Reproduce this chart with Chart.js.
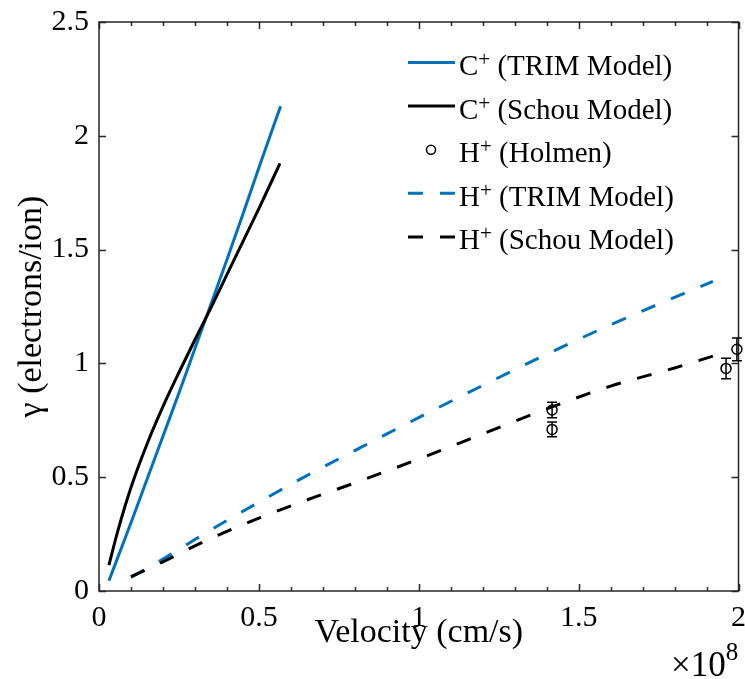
<!DOCTYPE html>
<html>
<head>
<meta charset="utf-8">
<script src="https://cdn.jsdelivr.net/npm/chart.js@4.4.0/dist/chart.umd.min.js"></script>
<style>
  html, body { margin: 0; padding: 0; background: #fff; }
  canvas { display: block; }
</style>
</head>
<body>
<canvas id="gammaChart" width="745" height="679"></canvas>
<script>
(function() {
'use strict';

// velocity in units of 1e8 cm/s, gamma in electrons/ion
const cTrimV = [0.031, 0.06, 0.1, 0.15, 0.2, 0.25, 0.3, 0.35, 0.4, 0.45, 0.5, 0.568];
const cTrimG = [0.045, 0.152, 0.3, 0.49, 0.68, 0.87, 1.065, 1.26, 1.455, 1.655, 1.86, 2.13];

const cSchouV = [0.031, 0.06, 0.1, 0.15, 0.2, 0.25, 0.3, 0.35, 0.4, 0.45, 0.5, 0.566];
const cSchouG = [0.114, 0.27, 0.455, 0.645, 0.81, 0.96, 1.104, 1.244, 1.39, 1.535, 1.68, 1.879];

const hTrimV = [0.1, 0.2, 0.3, 0.4, 0.5, 0.65, 0.8, 1.0, 1.2, 1.4, 1.6, 1.8, 1.92];
const hTrimG = [0.06, 0.14, 0.226, 0.31, 0.39, 0.507, 0.617, 0.762, 0.903, 1.04, 1.17, 1.29, 1.36];

const hSchouV = [0.1, 0.2, 0.3, 0.4, 0.5, 0.67, 0.8, 1.0, 1.2, 1.4, 1.6, 1.8, 1.92];
const hSchouG = [0.063, 0.128, 0.198, 0.262, 0.32, 0.41, 0.475, 0.58, 0.69, 0.80, 0.90, 0.98, 1.032];

const holmenV = [1.417, 1.417, 1.961, 1.995];
const holmenG = [0.795, 0.71, 0.978, 1.062];
const holmenErr = [0.034, 0.032, 0.045, 0.05];

const xMajorTicks = [0, 0.5, 1, 1.5, 2];
const xMinorTicks = [0.1, 0.2, 0.3, 0.4, 0.6, 0.7, 0.8, 0.9, 1.1, 1.2, 1.3, 1.4, 1.6, 1.7, 1.8, 1.9];
const yMajorTicks = [0, 0.5, 1, 1.5, 2, 2.5];

const BLUE = '#0072BD';
const BLACK = '#000000';
const AXIS = '#262626';
const FONT = '"Liberation Serif", "Times New Roman", serif';

function pts(xs, ys) {
    return xs.map((x, i) => ({ x: x, y: ys[i] }));
}

const legendRows = [
    { ion: 'C', rest: ' (TRIM Model)', color: BLUE, dash: [], kind: 'line' },
    { ion: 'C', rest: ' (Schou Model)', color: BLACK, dash: [], kind: 'line' },
    { ion: 'H', rest: ' (Holmen)', color: BLACK, dash: [], kind: 'marker' },
    { ion: 'H', rest: ' (TRIM Model)', color: BLUE, dash: [15, 17], kind: 'line' },
    { ion: 'H', rest: ' (Schou Model)', color: BLACK, dash: [15, 17], kind: 'line' }
];

// box with inward ticks on all four sides, like the original figure
const framePlugin = {
    id: 'frame',
    beforeDatasetsDraw(chart) {
        const ctx = chart.ctx;
        const a = chart.chartArea;
        const xs = chart.scales.x;
        const ys = chart.scales.y;
        ctx.save();
        ctx.strokeStyle = AXIS;
        ctx.lineWidth = 1.5;
        ctx.beginPath();
        xMajorTicks.forEach(v => {
            const px = Math.round(xs.getPixelForValue(v)) + 0.5;
            ctx.moveTo(px, a.bottom); ctx.lineTo(px, a.bottom - 7);
            ctx.moveTo(px, a.top); ctx.lineTo(px, a.top + 7);
        });
        xMinorTicks.forEach(v => {
            const px = Math.round(xs.getPixelForValue(v)) + 0.5;
            ctx.moveTo(px, a.bottom); ctx.lineTo(px, a.bottom - 4);
            ctx.moveTo(px, a.top); ctx.lineTo(px, a.top + 4);
        });
        yMajorTicks.forEach(v => {
            const py = Math.round(ys.getPixelForValue(v)) + 0.5;
            ctx.moveTo(a.left, py); ctx.lineTo(a.left + 7, py);
            ctx.moveTo(a.right, py); ctx.lineTo(a.right - 7, py);
        });
        ctx.stroke();
        ctx.strokeRect(a.left, a.top, a.right - a.left, a.bottom - a.top);
        ctx.restore();
    }
};

const errorBarPlugin = {
    id: 'errorBars',
    afterDatasetsDraw(chart) {
        const ctx = chart.ctx;
        const ys = chart.scales.y;
        const meta = chart.getDatasetMeta(2);
        ctx.save();
        ctx.strokeStyle = BLACK;
        ctx.lineWidth = 1.5;
        meta.data.forEach((pt, i) => {
            const top = ys.getPixelForValue(holmenG[i] + holmenErr[i]);
            const bot = ys.getPixelForValue(holmenG[i] - holmenErr[i]);
            ctx.beginPath();
            ctx.moveTo(pt.x, top); ctx.lineTo(pt.x, bot);
            ctx.moveTo(pt.x - 5, top); ctx.lineTo(pt.x + 5, top);
            ctx.moveTo(pt.x - 5, bot); ctx.lineTo(pt.x + 5, bot);
            ctx.stroke();
        });
        ctx.restore();
    }
};

const legendPlugin = {
    id: 'texLegend',
    afterDraw(chart) {
        const ctx = chart.ctx;
        ctx.save();
        legendRows.forEach((row, i) => {
            const base = 75 + i * 43.6;
            const ly = base - 12.5;
            ctx.strokeStyle = row.color;
            if (row.kind === 'line') {
                ctx.lineWidth = 3;
                ctx.setLineDash(row.dash);
                ctx.beginPath();
                ctx.moveTo(408, ly);
                ctx.lineTo(455, ly);
                ctx.stroke();
                ctx.setLineDash([]);
            } else {
                ctx.lineWidth = 1.5;
                ctx.beginPath();
                ctx.arc(431, ly, 4.5, 0, Math.PI * 2);
                ctx.stroke();
            }
            ctx.fillStyle = BLACK;
            ctx.textAlign = 'left';
            ctx.textBaseline = 'alphabetic';
            let x = 459;
            ctx.font = '29px ' + FONT;
            ctx.fillText(row.ion, x, base);
            x += ctx.measureText(row.ion).width;
            ctx.font = '21px ' + FONT;
            ctx.fillText('+', x, base - 9);
            x += ctx.measureText('+').width;
            ctx.font = '29px ' + FONT;
            ctx.fillText(row.rest, x, base);
        });

        // exponent label of the x axis
        ctx.fillStyle = BLACK;
        ctx.font = '35px ' + FONT;
        ctx.fillText('\u00d710', 671, 676);
        const w = ctx.measureText('\u00d710').width;
        ctx.font = '25px ' + FONT;
        ctx.fillText('8', 671 + w, 660);
        ctx.restore();
    }
};

const tickText = v => String(v);

const ctx = document.getElementById('gammaChart');
new Chart(ctx, {
    type: 'line',
    data: {
        datasets: [
            {
                label: 'C+ (TRIM Model)',
                data: pts(cTrimV, cTrimG),
                borderColor: BLUE,
                borderWidth: 3,
                pointRadius: 0,
                cubicInterpolationMode: 'monotone',
                fill: false,
                order: 5
            },
            {
                label: 'C+ (Schou Model)',
                data: pts(cSchouV, cSchouG),
                borderColor: BLACK,
                borderWidth: 3,
                pointRadius: 0,
                cubicInterpolationMode: 'monotone',
                fill: false,
                order: 4
            },
            {
                label: 'H+ (Holmen)',
                data: pts(holmenV, holmenG),
                showLine: false,
                borderColor: BLACK,
                backgroundColor: 'rgba(0,0,0,0)',
                pointRadius: 5,
                pointBorderWidth: 1.5,
                pointBorderColor: BLACK,
                pointBackgroundColor: 'rgba(0,0,0,0)',
                clip: false,
                order: 3
            },
            {
                label: 'H+ (TRIM Model)',
                data: pts(hTrimV, hTrimG),
                borderColor: BLUE,
                borderWidth: 3,
                borderDash: [15, 17],
                pointRadius: 0,
                cubicInterpolationMode: 'monotone',
                fill: false,
                order: 2
            },
            {
                label: 'H+ (Schou Model)',
                data: pts(hSchouV, hSchouG),
                borderColor: BLACK,
                borderWidth: 3,
                borderDash: [15, 17],
                pointRadius: 0,
                cubicInterpolationMode: 'monotone',
                fill: false,
                order: 1
            }
        ]
    },
    options: {
        responsive: false,
        animation: false,
        events: [],
        layout: { padding: { top: 22, right: 6, left: 0, bottom: 0 } },
        plugins: {
            legend: { display: false },
            tooltip: { enabled: false }
        },
        scales: {
            x: {
                type: 'linear',
                min: 0,
                max: 2,
                afterFit: function(scale) {
                    scale.height = 88;
                    scale.paddingLeft = 0;
                    scale.paddingRight = 0;
                },
                grid: { display: false, drawTicks: false },
                border: { display: false },
                ticks: {
                    stepSize: 0.5,
                    padding: 9,
                    color: BLACK,
                    maxRotation: 0,
                    autoSkip: false,
                    callback: tickText,
                    font: { family: FONT, size: 30 }
                },
                title: {
                    display: true,
                    text: 'Velocity (cm/s)',
                    color: BLACK,
                    font: { family: FONT, size: 34 },
                    padding: { top: 0, bottom: 26 }
                }
            },
            y: {
                type: 'linear',
                min: 0,
                max: 2.5,
                afterFit: function(scale) {
                    scale.width = 99;
                    scale.paddingTop = 0;
                    scale.paddingBottom = 0;
                },
                grid: { display: false, drawTicks: false },
                border: { display: false },
                ticks: {
                    stepSize: 0.5,
                    padding: 10,
                    color: BLACK,
                    autoSkip: false,
                    callback: tickText,
                    font: { family: FONT, size: 30 }
                },
                title: {
                    display: true,
                    text: '\u03b3 (electrons/ion)',
                    color: BLACK,
                    font: { family: FONT, size: 34 },
                    padding: { top: 12, bottom: 0 }
                }
            }
        }
    },
    plugins: [framePlugin, errorBarPlugin, legendPlugin]
});

})();
</script>
</body>
</html>
